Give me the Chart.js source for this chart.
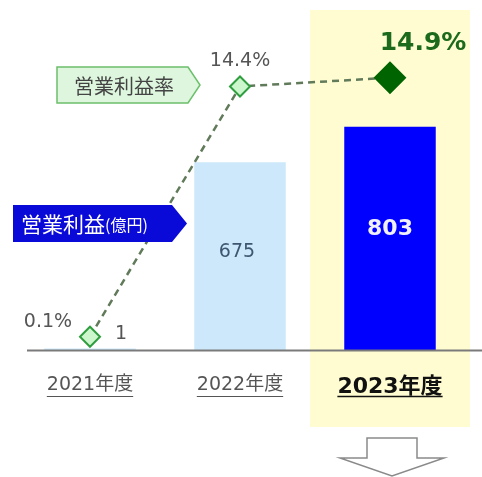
<!DOCTYPE html>
<html lang="ja">
<head>
<meta charset="UTF-8">
<title>営業利益・営業利益率の推移</title>
<script src="https://cdn.jsdelivr.net/npm/chart.js"></script>
<style>
  html, body { margin: 0; padding: 0; background: #fff; }
  canvas { display: block; }
</style>
</head>
<body>
<canvas id="profitChart" width="482" height="477"></canvas>
<script>
// 年度ごとの営業利益(億円)と営業利益率(%)
const years = ['2021年度', '2022年度', '2023年度'];
const operatingProfit = [1, 675, 803];
const operatingMargin = [0.1, 14.4, 14.9];
const currentYear = 2; // 強調する年度

const NUM_FONT = "'DejaVu Sans', 'Noto Sans CJK JP', sans-serif";
const JP_FONT = "'Noto Sans CJK JP', sans-serif";

Chart.defaults.font.family = NUM_FONT;

// 右向き矢印型のラベル
function tagShape(ctx, x, y, w, h, tip, fill, stroke) {
    ctx.beginPath();
    ctx.moveTo(x, y);
    ctx.lineTo(x + w, y);
    ctx.lineTo(x + w + tip, y + h / 2);
    ctx.lineTo(x + w, y + h);
    ctx.lineTo(x, y + h);
    ctx.closePath();
    ctx.fillStyle = fill;
    ctx.fill();
    if (stroke) {
        ctx.strokeStyle = stroke;
        ctx.lineWidth = 1.5;
        ctx.stroke();
    }
}

const decorations = {
    id: 'decorations',
    beforeDraw(chart) {
        // 当年度の背景
        const ctx = chart.ctx;
        const x = chart.scales.x.getPixelForValue(currentYear);
        ctx.save();
        ctx.fillStyle = '#fffcd2';
        ctx.fillRect(x - 80, 10, 160, 417);
        ctx.restore();
    },
    afterDatasetsDraw(chart) {
        const ctx = chart.ctx;
        const area = chart.chartArea;
        const y0 = chart.scales.y.getPixelForValue(0);
        const bars = chart.getDatasetMeta(1).data;
        const points = chart.getDatasetMeta(0).data;

        ctx.save();
        // 横軸線
        ctx.strokeStyle = '#7a7a7a';
        ctx.lineWidth = 2;
        ctx.beginPath();
        ctx.moveTo(area.left + 12, y0);
        ctx.lineTo(chart.width, y0);
        ctx.stroke();

        ctx.textAlign = 'center';
        ctx.textBaseline = 'middle';

        // 営業利益の値
        bars.forEach((bar, i) => {
            const text = String(operatingProfit[i]);
            if (i === 0) {
                ctx.font = '19px ' + NUM_FONT;
                ctx.fillStyle = '#555';
                ctx.fillText(text, bar.x + 31, bar.base - 17);
            } else if (i === currentYear) {
                ctx.font = 'bold 22px ' + NUM_FONT;
                ctx.fillStyle = '#f0f0ff';
                ctx.fillText(text, bar.x, (bar.y + bar.base) / 2 - 9);
            } else {
                ctx.font = '19px ' + NUM_FONT;
                ctx.fillStyle = '#3f5670';
                ctx.fillText(text, bar.x - 3, (bar.y + bar.base) / 2 - 4);
            }
        });

        // 営業利益率の値
        points.forEach((pt, i) => {
            const text = operatingMargin[i].toFixed(1) + '%';
            if (i === currentYear) {
                ctx.font = 'bold 25px ' + NUM_FONT;
                ctx.fillStyle = '#1c6b1c';
                ctx.fillText(text, pt.x + 33, pt.y - 34);
            } else if (i === 0) {
                ctx.font = '19px ' + NUM_FONT;
                ctx.fillStyle = '#555';
                ctx.fillText(text, pt.x - 42, pt.y - 15);
            } else {
                ctx.font = '19px ' + NUM_FONT;
                ctx.fillStyle = '#555';
                ctx.fillText(text, pt.x, pt.y - 25);
            }
        });

        // 系列名のタグ
        ctx.textAlign = 'left';
        tagShape(ctx, 57, 67, 131, 36, 12, '#ddf6dd', '#6cbf6c');
        ctx.font = '20px ' + JP_FONT;
        ctx.fillStyle = '#444';
        ctx.fillText('営業利益率', 74, 86);

        tagShape(ctx, 13, 205, 159, 37, 15, '#0a0ad8', null);
        ctx.fillStyle = '#ffffff';
        ctx.font = '21px ' + JP_FONT;
        ctx.fillText('営業利益', 21, 224);
        const w = ctx.measureText('営業利益').width;
        ctx.font = '16px ' + JP_FONT;
        ctx.fillText('(億円)', 21 + w, 225);
        ctx.restore();
    },
    afterDraw(chart) {
        const ctx = chart.ctx;
        const xs = chart.scales.x;
        ctx.save();
        // 年度ラベルの下線
        years.forEach((label, i) => {
            const bold = i === currentYear;
            ctx.font = (bold ? 'bold 22px ' : '19px ') + NUM_FONT;
            const w = ctx.measureText(label).width;
            const x = xs.getPixelForTick(i);
            ctx.strokeStyle = bold ? '#111' : '#555';
            ctx.lineWidth = bold ? 1.5 : 1;
            ctx.beginPath();
            ctx.moveTo(x - w / 2, 396.5);
            ctx.lineTo(x + w / 2, 396.5);
            ctx.stroke();
        });

        // 下向き矢印
        const cx = xs.getPixelForValue(currentYear) + 2;
        ctx.beginPath();
        ctx.moveTo(cx - 25, 438);
        ctx.lineTo(cx + 25, 438);
        ctx.lineTo(cx + 25, 458);
        ctx.lineTo(cx + 52, 458);
        ctx.lineTo(cx, 476);
        ctx.lineTo(cx - 52, 458);
        ctx.lineTo(cx - 25, 458);
        ctx.closePath();
        ctx.fillStyle = '#ffffff';
        ctx.fill();
        ctx.strokeStyle = '#8a8a8a';
        ctx.lineWidth = 1.5;
        ctx.stroke();
        ctx.restore();
    }
};

const ctx = document.getElementById('profitChart').getContext('2d');
new Chart(ctx, {
    type: 'bar',
    data: {
        labels: years,
        datasets: [
            {
                type: 'line',
                label: '営業利益率',
                data: operatingMargin,
                yAxisID: 'y2',
                borderColor: '#607a5a',
                borderWidth: 2.5,
                borderDash: [7, 5],
                pointStyle: 'rectRot',
                pointRadius: [10, 10, 15],
                pointBorderWidth: 2,
                pointBackgroundColor: ['#ccf7cc', '#ccf7cc', '#006400'],
                pointBorderColor: ['#2f9e3f', '#2f9e3f', '#006400'],
                order: 0
            },
            {
                label: '営業利益(億円)',
                data: operatingProfit,
                yAxisID: 'y',
                backgroundColor: ['#cce8fa', '#cce8fa', '#0000ff'],
                borderWidth: 0,
                minBarLength: 2,
                barPercentage: 0.61,
                categoryPercentage: 1,
                order: 1
            }
        ]
    },
    options: {
        responsive: false,
        animation: false,
        layout: {
            autoPadding: false,
            padding: { left: 15, right: 17, top: 0, bottom: 54 }
        },
        plugins: {
            legend: { display: false },
            tooltip: { enabled: false }
        },
        scales: {
            x: {
                grid: { display: false, drawTicks: false },
                border: { display: false },
                ticks: {
                    padding: 23,
                    color: (c) => c.index === currentYear ? '#111' : '#555',
                    font: (c) => c.index === currentYear
                        ? { size: 22, weight: 'bold' }
                        : { size: 19 }
                }
            },
            y: {
                display: false,
                min: 0,
                max: 1257
            },
            y2: {
                display: false,
                min: -0.69,
                max: 19.34
            }
        }
    },
    plugins: [decorations]
});
</script>
</body>
</html>
